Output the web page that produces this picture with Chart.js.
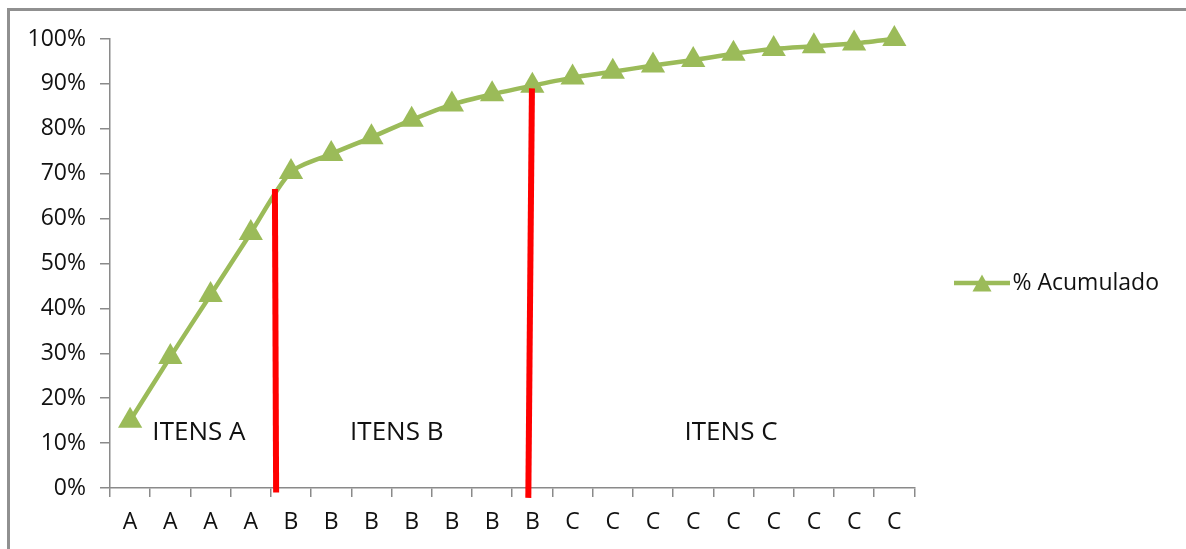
<!DOCTYPE html>
<html>
<head>
<meta charset="utf-8">
<title>% Acumulado</title>
<script src="https://cdn.jsdelivr.net/npm/chart.js@4.4.0/dist/chart.umd.min.js"></script>
<style>
  body { margin: 0; background: #fff; }
  canvas { display: block; }
</style>
</head>
<body>
<canvas id="abcChart" width="1186" height="549"></canvas>
<script>
// categories (classe de cada item) and accumulated %
const categories = ["A", "A", "A", "A", "B", "B", "B", "B", "B", "B", "B", "C", "C", "C", "C", "C", "C", "C", "C", "C"];
const accumulated = [15, 29.2, 43, 56.8, 70.4, 74.4, 78.1, 82, 85.4, 87.7, 89.6, 91.4, 92.7, 94.1, 95.3, 96.7, 97.8, 98.4, 99, 100];
const yTicks = [0, 10, 20, 30, 40, 50, 60, 70, 80, 90, 100];

// red cut lines between the classes (x as category index, y in %)
const cutBottomX = [3.63, 9.9];
const cutTopX = [3.6, 9.99];
const cutTopY = [66.6, 89];
const cutBottomY = [-1.0, -2.2];

// class captions
const zoneLabels = ["ITENS A", "ITENS B", "ITENS C"];
const zoneX = [1.71, 6.63, 14.94];
const zoneY = [10.7, 10.7, 10.7];

const green = "#9BBB59";
const axisGray = "#8a8a8a";
const textColor = "#111";
const fontFamily = "'Open Sans', 'Liberation Sans', sans-serif";

function makeLegendIcon() {
  const c = document.createElement("canvas");
  c.width = 56;
  c.height = 24;
  const g = c.getContext("2d");
  g.strokeStyle = green;
  g.lineWidth = 4.5;
  g.beginPath();
  g.moveTo(0, 12);
  g.lineTo(56, 12);
  g.stroke();
  g.fillStyle = green;
  g.beginPath();
  g.moveTo(28, 3.5);
  g.lineTo(37.5, 20.5);
  g.lineTo(18.5, 20.5);
  g.closePath();
  g.fill();
  return c;
}

// draws the outer frame, the red separators and the zone captions
const annotations = {
  id: "annotations",
  beforeDraw(chart) {
    const ctx = chart.ctx;
    ctx.save();
    ctx.strokeStyle = "#909090";
    ctx.lineWidth = 3;
    ctx.beginPath();
    ctx.moveTo(8.5, chart.height);
    ctx.lineTo(8.5, 9.5);
    ctx.lineTo(chart.width, 9.5);
    ctx.stroke();
    ctx.restore();
  },
  afterDatasetsDraw(chart) {
    const ctx = chart.ctx;
    const x = chart.scales.x;
    const y = chart.scales.y;
    ctx.save();
    ctx.strokeStyle = "#FF0000";
    ctx.lineWidth = 6;
    for (let i = 0; i < cutTopX.length; i++) {
      ctx.beginPath();
      ctx.moveTo(x.getPixelForValue(cutBottomX[i]), y.getPixelForValue(cutBottomY[i]));
      ctx.lineTo(x.getPixelForValue(cutTopX[i]), y.getPixelForValue(cutTopY[i]));
      ctx.stroke();
    }
    ctx.fillStyle = textColor;
    ctx.font = "26px " + fontFamily;
    ctx.textAlign = "center";
    ctx.textBaseline = "alphabetic";
    zoneLabels.forEach((label, i) => {
      ctx.fillText(label, x.getPixelForValue(zoneX[i]), y.getPixelForValue(zoneY[i]));
    });
    ctx.restore();
  }
};

const ctx = document.getElementById("abcChart").getContext("2d");
const chart = new Chart(ctx, {
  type: "line",
  data: {
    labels: categories,
    datasets: [
      {
        label: "% Acumulado",
        data: accumulated,
        borderColor: green,
        backgroundColor: green,
        borderWidth: 4.5,
        tension: 0.25,
        pointStyle: "triangle",
        pointRadius: 14,
        pointBackgroundColor: green,
        pointBorderColor: green,
        pointBorderWidth: 0,
        clip: false
      }
    ]
  },
  options: {
    responsive: false,
    animation: false,
    devicePixelRatio: 1,
    layout: {
      padding: { left: 0, right: 17, top: 39, bottom: 0 }
    },
    scales: {
      x: {
        type: "category",
        offset: true,
        afterFit: function (scale) {
          scale.height = 61;
        },
        grid: {
          offset: true,
          drawOnChartArea: false,
          drawTicks: true,
          tickLength: 9,
          color: axisGray,
          lineWidth: 1.5
        },
        border: { display: true, color: axisGray, width: 1.5 },
        ticks: {
          color: textColor,
          padding: 12,
          maxRotation: 0,
          autoSkip: false,
          font: { family: fontFamily, size: 23 }
        }
      },
      y: {
        min: 0,
        max: 100,
        afterFit: function (scale) {
          scale.width = 110;
        },
        afterBuildTicks: function (scale) {
          scale.ticks = yTicks.map(v => ({ value: v }));
        },
        grid: {
          drawOnChartArea: false,
          drawTicks: true,
          tickLength: 10,
          color: axisGray,
          lineWidth: 1.5
        },
        border: { display: true, color: axisGray, width: 1.5 },
        ticks: {
          color: textColor,
          padding: 14,
          font: { family: fontFamily, size: 23 },
          callback: function (value) {
            return value + "%";
          }
        }
      }
    },
    plugins: {
      tooltip: { enabled: false },
      legend: {
        position: "right",
        align: "center",
        fullSize: false,
        // empty title only pushes the entry down to the reference height
        title: {
          display: true,
          text: "",
          font: { size: 1, lineHeight: 1 },
          padding: { top: 38, bottom: 0 }
        },
        labels: {
          usePointStyle: true,
          pointStyle: makeLegendIcon(),
          pointStyleWidth: 38,
          padding: 48.5,
          color: textColor,
          font: { family: fontFamily, size: 23 }
        }
      }
    }
  },
  plugins: [annotations]
});
</script>
</body>
</html>
